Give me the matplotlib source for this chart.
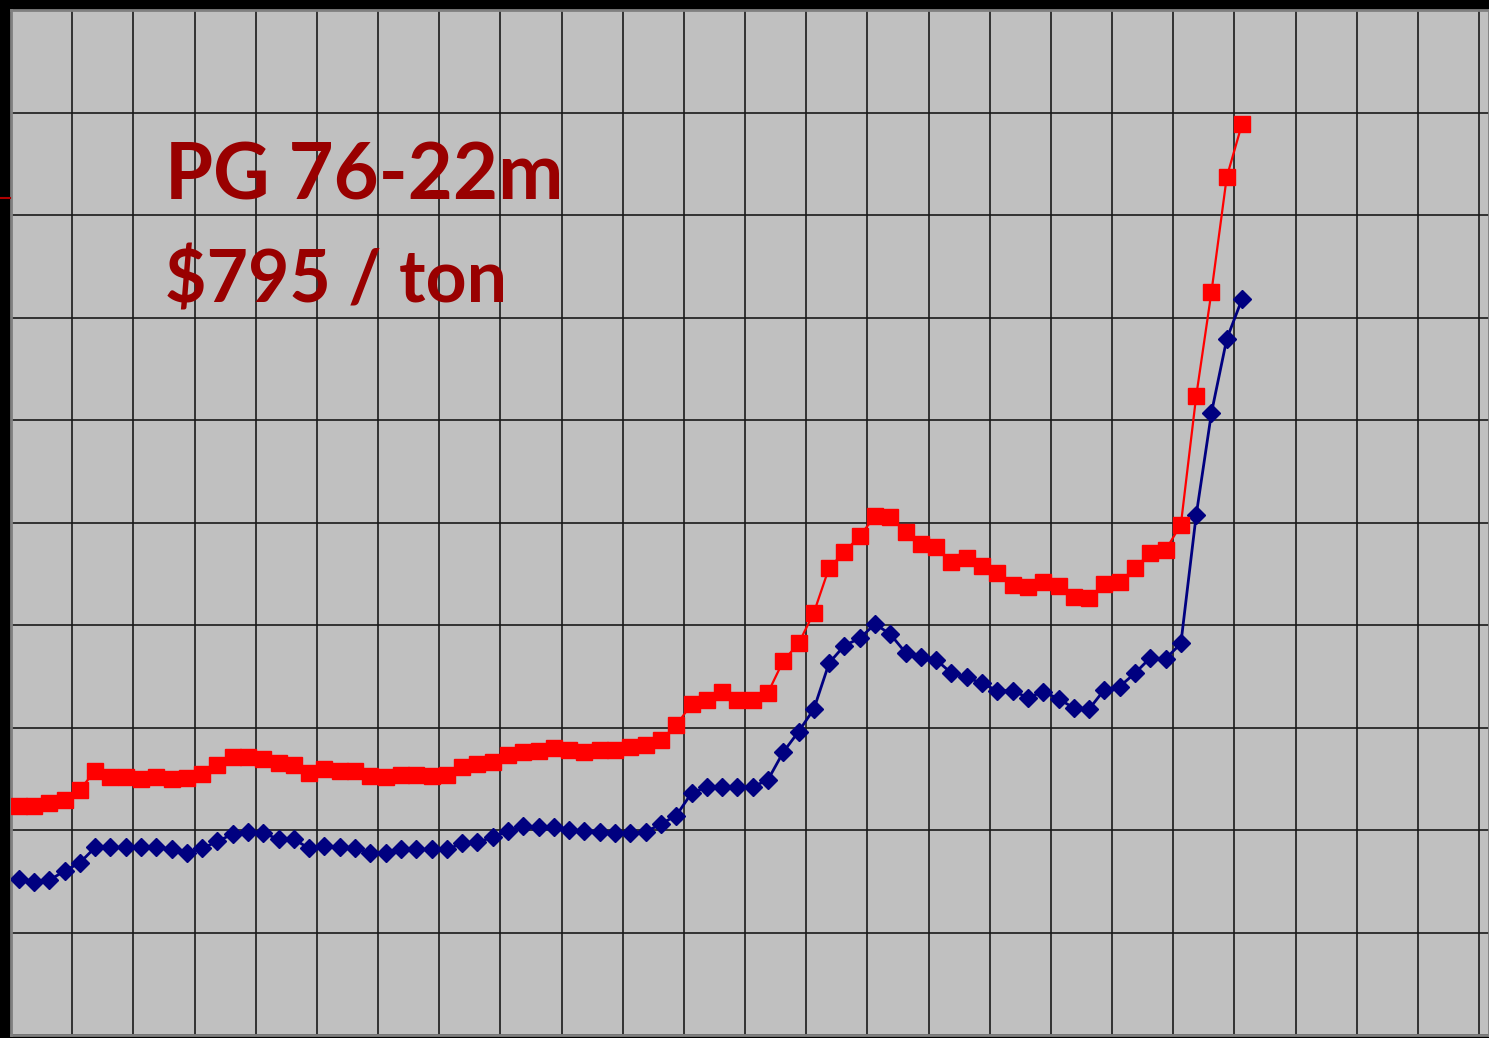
import numpy as np
import matplotlib
matplotlib.use("Agg")
import matplotlib.pyplot as plt
from matplotlib.lines import Line2D

# price series (grid units: 100 per horizontal gridline)
red_vals = [223, 223, 226, 229, 239, 258, 252, 252, 250, 252,
            250, 251, 255, 263, 271, 271, 269, 265, 263, 256,
            260, 258, 258, 253, 252, 254, 254, 253, 254, 261,
            264, 266, 273, 276, 277, 280, 278, 276, 278, 278,
            281, 283, 288, 302, 323, 327, 335, 327, 327, 334,
            365, 382, 412, 456, 471, 487, 506, 505, 491, 479,
            476, 461, 465, 458, 451, 439, 437, 442, 438, 427,
            426, 440, 442, 456, 470, 473, 498, 623, 725, 837,
            889]
blue_vals = [152, 149, 151, 160, 168, 183, 183, 183, 183, 183,
             181, 178, 182, 189, 196, 198, 197, 191, 191, 182,
             184, 183, 182, 178, 178, 181, 181, 181, 181, 187,
             188, 193, 199, 204, 203, 203, 200, 199, 198, 197,
             197, 198, 206, 214, 236, 242, 242, 242, 242, 249,
             276, 296, 318, 363, 380, 387, 401, 391, 373, 369,
             366, 353, 349, 343, 336, 336, 329, 335, 328, 319,
             318, 337, 340, 353, 368, 367, 382, 507, 607, 679,
             718]
title_line1 = "PG 76-22m"
title_line2 = "$795 / ton"

x = np.arange(len(red_vals))

W, H = 1489, 1038
fig = plt.figure(figsize=(W / 100, H / 100), dpi=100, facecolor="black")
ax = fig.add_axes([11 / W, 3 / H, (W - 11) / W, 1025 / H])
ax.set_facecolor("#c0c0c0")

ax.plot(x, blue_vals, color="#000080", lw=2.0, marker="D", ms=9,
        mec="#000080", mfc="#000080", zorder=3)
ax.plot(x, red_vals, color="#ff0000", lw=1.6, marker="s", ms=11.5,
        mec="#ff0000", mfc="#ff0000", zorder=4)

step = 61.17 / 4
ax.set_xticks(np.arange(-0.5, 100, 4))
ax.set_yticks(np.arange(0, 1001, 100))
ax.set_xlim(-0.5, -0.5 + (W - 11) / step)
ax.set_ylim(0, 1000)
ax.grid(True, color="#1a1a1a", lw=1.2)
ax.set_axisbelow(True)
ax.tick_params(length=0, labelbottom=False, labelleft=False)
for s in ax.spines.values():
    s.set_color("#808080")
    s.set_linewidth(2)

fig.text(165 / W, 1 - 200 / H, title_line1, color="#990000", fontsize=56,
         fontfamily="Lato", fontweight="bold", va="baseline", ha="left")
fig.text(165 / W, 1 - 302 / H, title_line2, color="#990000", fontsize=51.5,
         fontfamily="Lato", fontweight="bold", va="baseline", ha="left")

fig.add_artist(Line2D([0, 10 / W], [1 - 198 / H, 1 - 198 / H],
                      color="#b00000", lw=1.5, transform=fig.transFigure))

fig.savefig("out.png", dpi=100, facecolor=fig.get_facecolor())
